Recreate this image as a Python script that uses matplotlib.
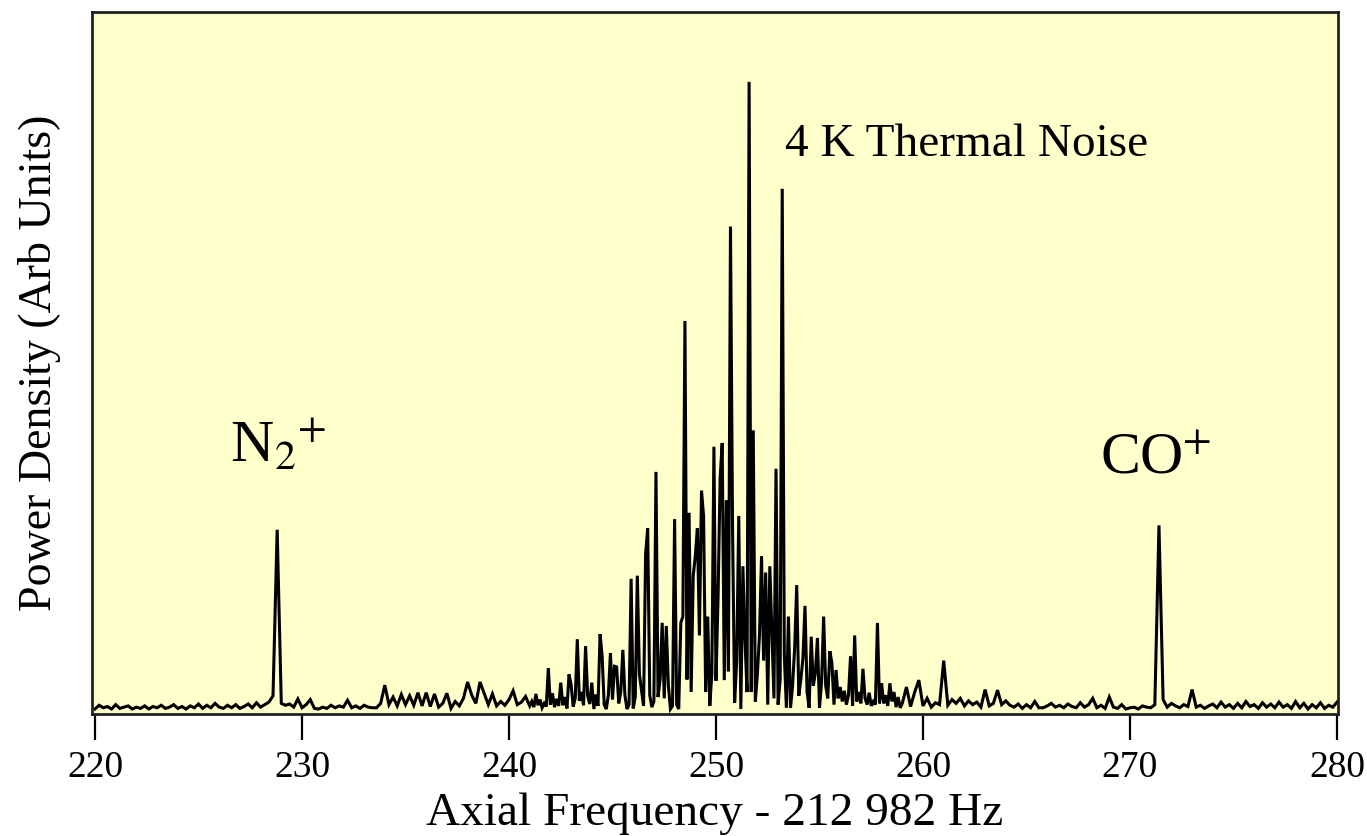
import numpy as np
import matplotlib
matplotlib.use("Agg")
import matplotlib.pyplot as plt

plt.rcParams["font.family"] = ["Liberation Serif", "DejaVu Serif"]
plt.rcParams["mathtext.fontset"] = "stix"

# power density (arb units)
# low band: 220.0 .. 240.8 Hz, step 0.2
p_lo = [
    0.3, 0.9, 0.5, 0.7, 0.3, 1.0, 0.4, 0.6, 0.8, 0.3,
    0.6, 0.4, 0.8, 0.3, 0.7, 0.5, 0.9, 0.4, 0.6, 1.0,
    0.4, 0.7, 0.3, 0.8, 0.5, 1.1, 0.4, 0.9, 0.5, 1.2,
    0.6, 0.4, 0.9, 0.5, 1.0, 0.4, 0.7, 1.1, 0.5, 1.3,
    0.6, 1.0, 1.4, 2.4, 28.8, 1.2, 0.9, 1.1, 0.6, 1.9,
    0.5, 1.0, 1.8, 0.4, 0.3, 0.6, 0.4, 0.9, 0.5, 0.8,
    0.6, 1.7, 0.5, 0.8, 0.4, 0.9, 0.6, 0.5, 0.5, 1.2,
    4.1, 1.0, 2.2, 0.8, 2.6, 1.0, 2.4, 0.9, 2.9, 0.8,
    2.9, 0.7, 2.7, 0.6, 1.2, 2.8, 0.4, 1.5, 0.8, 2.0,
    4.6, 2.5, 1.2, 4.6, 2.8, 1.0, 2.7, 0.8, 1.5, 0.9,
    1.8, 3.2, 1.0, 1.4, 2.3,
]
# central band: 241.0 .. 258.9 Hz, step 0.1
p_mid = [
    0.8, 1.5, 0.6, 2.7, 0.9, 1.8, 0.5, 1.2, 0.7, 6.8,
    1.0, 2.8, 0.6, 1.9, 0.8, 4.5, 0.9, 2.2, 0.4, 5.8,
    4.2, 0.7, 2.0, 11.4, 1.6, 3.0, 0.9, 10.3, 2.4, 1.1,
    4.5, 0.3, 2.6, 0.8, 12.2, 8.7, 1.0, 0.3, 2.5, 9.2,
    1.8, 7.1, 7.0, 1.2, 3.0, 9.7, 2.5, 0.3, 1.0, 21.0,
    0.4, 2.2, 21.5, 5.8, 3.3, 0.8, 25.0, 29.0, 2.5, 0.6,
    1.5, 38.0, 2.2, 5.0, 14.0, 2.0, 13.5, 4.0, 0.3, 0.8,
    30.5, 1.0, 0.3, 14.0, 15.0, 62.0, 5.0, 31.5, 3.0, 21.5,
    24.6, 29.0, 12.0, 35.0, 31.0, 3.0, 15.0, 0.8, 6.0, 42.0,
    4.8, 18.0, 37.0, 42.6, 4.9, 33.5, 6.3, 77.0, 29.0, 1.3,
    8.0, 31.0, 0.3, 23.0, 11.4, 3.0, 100.0, 3.0, 44.6, 1.5,
    5.9, 12.0, 24.6, 8.0, 22.0, 1.0, 23.0, 12.7, 2.0, 38.5,
    1.0, 5.0, 83.0, 8.9, 0.5, 15.0, 0.5, 4.0, 10.0, 20.0,
    2.4, 5.0, 8.4, 16.7, 3.0, 0.5, 11.8, 4.0, 6.0, 11.6,
    0.5, 4.5, 15.0, 4.0, 2.0, 9.5, 7.6, 1.0, 6.5, 2.0,
    3.8, 1.5, 3.2, 1.0, 2.5, 8.7, 0.8, 12.0, 1.5, 3.0,
    1.2, 6.7, 2.0, 1.0, 2.9, 0.8, 1.5, 1.0, 14.0, 1.2,
    4.4, 1.2, 2.5, 0.8, 4.4, 1.5, 3.0, 0.6, 2.2, 0.5,
]
# high band: 259.0 .. 280.0 Hz, step 0.2
p_hi = [
    1.2, 3.8, 0.7, 3.0, 4.9, 0.8, 2.0, 0.6, 1.3, 1.0,
    8.0, 0.9, 1.8, 1.2, 2.0, 0.8, 1.6, 1.0, 1.4, 0.6,
    3.4, 0.8, 1.2, 3.3, 1.0, 1.6, 0.9, 0.6, 1.1, 0.4,
    1.0, 0.5, 1.5, 0.5, 0.5, 0.8, 1.2, 0.6, 0.9, 0.5,
    1.1, 0.7, 0.5, 1.3, 0.6, 1.0, 2.0, 0.5, 0.9, 0.4,
    2.2, 0.6, 0.4, 1.0, 0.3, 0.5, 0.6, 0.3, 0.8, 0.6,
    0.5, 1.0, 29.5, 1.8, 0.6, 1.2, 0.8, 0.5, 1.0, 0.7,
    3.4, 0.6, 0.9, 0.4, 0.8, 1.1, 0.5, 1.4, 0.6, 1.0,
    0.4, 1.2, 0.5, 1.5, 0.7, 1.0, 0.4, 1.3, 0.6, 1.1,
    0.5, 1.4, 0.6, 1.0, 0.4, 1.5, 0.5, 1.2, 0.3, 1.0,
    0.5, 1.3, 0.4, 0.9, 0.6, 1.4,
]

f_lo = 220.0 + 0.2 * np.arange(len(p_lo))
f_mid = 241.0 + 0.1 * np.arange(len(p_mid))
f_hi = 259.0 + 0.2 * np.arange(len(p_hi))
freq = np.concatenate([f_lo, f_mid, f_hi])
power = np.concatenate([p_lo, p_mid, p_hi])

xticks = [220, 230, 240, 250, 260, 270, 280]

fig = plt.figure(figsize=(13.67, 8.36), dpi=100)
ax = fig.add_axes([0.0673, 0.146, 0.9115, 0.8396])
ax.set_facecolor("#FFFFCC")

ax.plot(freq, power, color="black", linewidth=2.2, solid_joinstyle="miter")

ax.set_xlim(219.855, 280.05)
ax.set_ylim(-0.48, 111.1)
ax.set_xticks(xticks)
ax.set_yticks([])
ax.tick_params(axis="x", direction="out", length=19, width=1.6,
               labelsize=27, pad=7, colors="black")
for s in ax.spines.values():
    s.set_linewidth(2.0)
    s.set_color("#222222")

ax.set_xlabel("Axial Frequency - 212 982 Hz", fontsize=34, labelpad=6)
ax.set_ylabel("Power Density (Arb Units)", fontsize=33, labelpad=22)

ax.text(253.33, 90, "4 K Thermal Noise", fontsize=34, ha="left", va="center")
ax.text(226.5, 42.0, r"N$_2\!{}^+$", fontsize=43, ha="left", va="center")
ax.text(268.55, 40.0, r"CO$\!^+$", fontsize=43, ha="left", va="center")

fig.savefig("out.png", dpi=100)
